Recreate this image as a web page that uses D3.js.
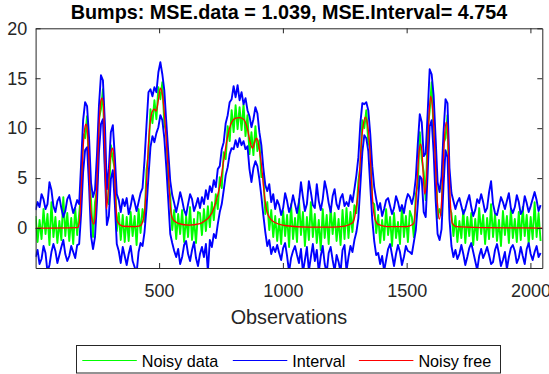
<!DOCTYPE html>
<html>
<head>
<meta charset="utf-8">
<script src="https://cdn.jsdelivr.net/npm/d3@7"></script>
<style>
  html, body { margin: 0; padding: 0; background: #fff; }
  svg { display: block; font-family: "Liberation Sans", Arial, Helvetica, sans-serif; }
</style>
</head>
<body>
<svg id="chart" width="549" height="374"></svg>
<script>
// Bumps test signal: noisy observations, interval bounds and the noise-free curve.
const title = "Bumps: MSE.data = 1.039, MSE.Interval= 4.754";
const xLabel = "Observations";
const xTicks = [500, 1000, 1500, 2000];
const yTicks = [0, 5, 10, 15, 20];
const seriesNames = ["Noisy data", "Interval", "Noisy free"];

// samples are taken every 8th observation, starting at observation 1
const sampleStep = 8;

// noisy data (green)
const noisyData = [
  1.2, -1.4, 0.8, -1.1, 1.9, -0.6, 1.4, -1.7, 2.6, -0.9, 1.1, -1.5, 0.7, -1.2, 3.1, -0.8, 1.5, -1.3, 1.0, -1.6, 2.0, -0.7,
  1.4, 3.6, 9.4, 9.0, 11.2, 5.4, 2.8, -0.9, 2.6, 3.9, 11.0, 11.9, 13.9, 6.4, 2.9, 2.4, 8.3, 6.9, 5.9, -0.3, 1.5, -1.2, 1.3, -1.4, 1.1,
  -1.3, 1.6, -0.8, 1.2, -1.7, 1.9, -0.5,
  1.9, 0.6, 5.8, 7.4, 11.9, 10.5, 12.8, 10.9, 14.1, 12.9, 14.6, 10.4, 9.6, 4.6, 3.2, -0.2, 1.8,
  -1.1, 1.4, -0.6, 1.8, -1.4, 1.2, -0.9, 2.1, -1.2, 0.9, -1.5, 1.6,
  1.5, -0.7, 1.9, -0.3, 2.2, 0.1, 2.6, 0.8, 3.4, 1.9, 5.1, 4.0, 7.6, 6.9, 10.2, 8.7, 11.8, 9.6, 12.3, 9.9,
  12.1, 9.8, 12.4, 9.2, 11.3, 7.4, 9.6, 7.3, 10.2, 7.7, 8.8, 5.1, 5.4, 1.4, 2.6, -0.2, 1.8, -0.9,
  1.2, -1.3, 0.9, -1.6, 1.7, -0.8, 1.3, -1.9, 2.4, -1.1, 1.0, -1.4, 2.9, -0.7, 1.6, -1.8, 1.1, -1.2, 2.6, -0.9,
  1.4, -1.5, 0.8, -2.2, 1.9, -1.0, 1.3, -1.6, 2.1, -0.6, 1.5, -1.3, 0.9, -1.7, 1.8, -1.1, 2.0,
  -1.0, 1.6, -0.4, 2.3, 1.5, 4.7, 6.2, 10.8, 10.0, 11.8, 8.6, 7.9, 2.6, 2.4, -0.5,
  1.3, -1.5, 0.8, -1.2, 1.9, -0.7, 1.1, -1.8, 1.5, -1.0, 0.6, -1.6, 2.2, -0.9, 1.2, -1.4, 1.7,
  1.1, -0.9, 3.4, 4.3, 9.6, 6.9, 5.6, 2.8, 9.9, 11.7, 14.6, 9.5, 7.4, 1.0, 1.9, 1.3, 8.5, 9.0, 11.3, 2.1, 1.5, -0.8,
  1.2, -1.4, 0.7, -1.0, 1.8, -1.5, 1.1, -0.8, 1.5, -1.7, 0.9, -1.2, 2.0, -0.6, 1.3, -1.6, 1.0, -1.1, 2.4, -0.9,
  1.4, -1.3, 0.8, -1.8, 1.7, -0.7, 1.2, -1.5, 1.9, -1.0, 0.9, -1.4, 1.6, -1.2, 2.1, -0.8, 1.3, -1.6, 1.1, -1.1,
  2.6, -0.9, 1.5, -1.3
];

// interval, upper bound (blue)
const intervalUpper = [
  1.8, 2.6, 2.1, 3.4, 2.9, 1.9, 2.4, 4.6, 3.8, 2.2, 1.6, 2.7, 3.1, 2.0, 1.1, 1.7, 2.9, 3.3, 2.4, 1.5, 2.1, 2.8,
  2.4, 6.5, 10.8, 12.6, 12.2, 9.0, 4.5, 3.1, 3.8, 7.4, 12.3, 15.3, 14.8, 10.5, 3.9, 6.0, 9.6, 10.3, 7.2, 3.4, 2.8, 1.6, 2.9, 2.2, 3.0,
  1.4, 2.2, 3.3, 2.6, 1.7, 2.6, 3.5,
  4.0, 6.8, 10.3, 13.6, 13.9, 13.2, 14.1, 13.6, 15.6, 16.6, 15.4, 13.8, 10.6, 7.6, 4.7, 3.3, 2.5,
  1.6, 2.5, 3.6, 2.8, 1.8, 1.3, 2.4, 3.4, 2.9, 1.7, 2.3, 3.0,
  2.0, 3.1, 2.4, 3.8, 2.9, 4.2, 3.6, 4.8, 4.1, 5.9, 6.2, 7.9, 8.6, 10.5, 11.3, 12.6, 12.9, 14.2, 13.1, 14.3,
  12.8, 13.6, 12.4, 13.0, 11.8, 11.2, 10.1, 10.9, 12.1, 11.5, 9.6, 8.3, 6.0, 4.3, 3.7, 4.4, 2.6, 3.4,
  1.9, 2.8, 2.3, 1.3, 2.0, 3.5, 2.7, 1.6, 2.2, 3.3, 2.4, 1.5, 2.6, 4.6, 3.1, 1.7, 2.4, 4.7, 3.6, 2.3,
  2.0, 4.4, 2.7, 1.8, 2.9, 4.7, 3.8, 2.5, 1.6, 3.2, 3.9, 2.4, 1.9, 3.0, 3.4, 2.2, 2.6,
  2.2, 3.3, 2.6, 3.9, 5.3, 7.1, 10.5, 12.5, 12.4, 12.6, 11.8, 9.4, 6.2, 4.1, 2.9,
  1.8, 2.5, 1.2, 1.9, 2.8, 3.0, 2.2, 1.4, 2.0, 3.2, 2.6, 1.7, 2.3, 1.5, 2.7, 3.4, 3.1,
  2.4, 3.3, 5.0, 8.4, 11.4, 10.6, 7.2, 7.5, 11.6, 15.9, 15.4, 13.3, 9.0, 4.6, 3.6, 5.2, 9.6, 12.9, 12.5, 6.0, 3.5, 2.7,
  1.9, 2.6, 3.0, 2.2, 1.4, 1.9, 2.7, 3.3, 2.1, 1.2, 1.8, 2.9, 2.5, 3.4, 2.6, 1.6, 2.0, 3.6, 4.7, 2.4,
  1.5, 1.3, 2.2, 3.1, 2.6, 1.9, 2.7, 3.5, 2.0, 1.5, 2.1, 3.3, 2.6, 1.4, 1.8, 3.2, 2.5, 1.6, 2.2, 2.9,
  3.6, 2.8, 1.7, 2.3
];

// interval, lower bound (blue)
const intervalLower = [
  -2.9, -2.2, -3.6, -3.1, -1.8, -2.5, -4.4, -3.7, -2.4, -1.6, -2.3, -3.5, -2.7, -1.9, -1.2, -2.6, -3.3, -2.8, -1.8, -2.4, -3.0, -1.7,
  -1.6, 1.5, 5.6, 7.8, 8.1, 4.2, -0.8, -2.1, -0.9, 2.6, 7.6, 10.4, 10.9, 5.6, 0.3, 1.2, 4.9, 5.8, 2.5, -1.6, -2.3, -3.5, -1.9, -2.8, -3.7,
  -2.6, -1.8, -3.3, -3.9, -4.5, -2.4, -1.5,
  -1.8, -0.4, 2.0, 5.2, 8.1, 9.2, 8.6, 9.5, 10.1, 11.3, 10.8, 9.0, 6.1, 2.8, -0.6, -1.5, -2.3,
  -2.9, -2.1, -3.6, -2.9, -1.7, -1.3, -2.6, -3.3, -2.2, -1.4, -3.0, -3.8,
  -2.6, -1.9, -2.9, -1.6, -4.3, -1.2, -1.9, -0.6, -1.0, 0.4, 1.6, 2.4, 3.8, 5.3, 6.1, 7.4, 8.0, 7.9, 8.8, 8.1,
  9.0, 8.3, 8.7, 7.9, 8.2, 5.9, 4.6, 6.0, 6.7, 6.2, 4.9, 3.2, 1.3, -0.4, -1.8, -1.2, -2.6, -1.9,
  -2.4, -1.7, -2.5, -3.2, -2.0, -1.5, -2.8, -4.4, -3.0, -2.3, -1.8, -2.7, -3.5, -2.1, -4.4, -3.2, -1.9, -4.3, -2.9, -1.6,
  -3.3, -2.2, -4.4, -2.8, -1.8, -3.6, -4.5, -2.5, -1.9, -3.2, -4.3, -2.7, -3.4, -4.4, -2.2, -1.7, -4.3,
  -2.9, -1.8, -2.4, -1.2, -0.4, 1.0, 4.3, 7.6, 9.3, 9.0, 7.7, 4.2, 0.9, -1.3, -2.7,
  -2.5, -3.6, -2.8, -4.3, -3.2, -2.1, -1.6, -2.7, -3.8, -2.6, -1.7, -2.4, -3.7, -2.9, -1.8, -2.3, -2.4,
  -2.6, -1.4, -0.2, 2.4, 5.2, 4.9, 1.6, 1.1, 5.6, 10.2, 10.8, 7.6, 2.9, -0.6, -1.2, -0.1, 4.3, 7.8, 7.1, 0.9, -1.8, -2.9,
  -2.2, -3.1, -2.6, -1.7, -2.6, -3.7, -2.9, -2.0, -1.5, -2.4, -3.3, -4.2, -2.8, -2.1, -3.0, -2.5, -1.9, -2.7, -3.6, -3.4,
  -2.2, -1.6, -2.6, -3.8, -3.2, -2.4, -4.1, -2.9, -2.0, -1.7, -2.3, -3.5, -3.0, -1.9, -2.8, -3.6, -2.1, -1.5, -2.6, -3.2,
  -2.4, -1.8, -2.9, -2.5
];

// noise-free signal (red): observation positions and values along the curve
const freeObs = [1, 170, 178, 185, 193, 201, 205, 209, 216, 223, 230, 236, 242, 249, 257, 265, 270, 275, 280, 287,
  294, 301, 308, 312, 316, 321, 326, 330, 340, 355, 400, 425, 433, 441, 449, 457, 465, 473, 481, 488,
  497, 505, 513, 521, 529, 537, 546, 553, 562, 580, 620, 665, 689, 713, 729, 745, 761, 777, 793, 809,
  825, 841, 857, 867, 877, 886, 893, 900, 907, 914, 923, 937, 961, 1015, 1100, 1200, 1250, 1273, 1284, 1295,
  1305, 1318, 1326, 1333, 1341, 1349, 1358, 1365, 1375, 1385, 1420, 1500, 1520, 1529, 1537, 1543, 1550, 1556, 1562, 1568,
  1573, 1579, 1585, 1591, 1597, 1603, 1610, 1617, 1624, 1632, 1640, 1647, 1654, 1660, 1666, 1671, 1677, 1684, 1700, 1800, 2048];
const freeVal = [0.0, 0.05, 0.6, 3.8, 8.0, 10.2, 10.4, 10.0, 7.0, 2.2, 0.7, 0.4, 1.2, 4.8, 10.0, 12.8, 13.0, 12.3, 8.5, 1.9,
  3.5, 6.5, 7.8, 8.0, 7.6, 4.8, 2.0, 0.8, 0.35, 0.18, 0.15, 0.25, 0.6, 1.6, 4.5, 8.5, 10.8, 11.7, 11.9, 11.7,
  12.8, 14.0, 13.4, 11.5, 8.8, 5.8, 2.0, 1.0, 0.7, 0.45, 0.3, 0.45, 0.8, 1.5, 2.6, 4.2, 6.8, 9.2, 10.6, 11.0,
  11.05, 10.9, 9.9, 8.7, 8.0, 8.6, 9.0, 8.6, 7.5, 6.2, 3.8, 1.5, 0.66, 0.23, 0.1, 0.1, 0.2, 0.4, 0.6, 1.8,
  3.8, 8.8, 10.5, 11.1, 10.5, 8.8, 4.8, 2.0, 0.7, 0.36, 0.15, 0.15, 0.3, 0.5, 2.5, 5.0, 7.6, 8.4, 7.6, 4.8,
  3.4, 4.5, 8.0, 11.5, 13.2, 12.4, 10.0, 6.0, 2.6, 0.9, 2.2, 6.0, 9.5, 10.6, 9.6, 6.0, 2.4, 0.5, 0.15, 0.05, 0.0];

const svg = d3.select("#chart");
const plot = { left: 35.6, right: 542.3, top: 28.3, bottom: 268 };
const axisColor = "#262626";

const x = d3.scaleLinear().domain([1, 2048]).range([plot.left, plot.right]);
const y = d3.scaleLinear().domain([-4, 20]).range([plot.bottom, plot.top]);

const obsAt = i => 1 + i * sampleStep;

svg.append("defs").append("clipPath").attr("id", "plot-clip")
  .append("rect")
  .attr("x", plot.left).attr("y", plot.top)
  .attr("width", plot.right - plot.left).attr("height", plot.bottom - plot.top);

const marks = svg.append("g").attr("clip-path", "url(#plot-clip)");

const sampledLine = d3.line().x((d, i) => x(obsAt(i))).y(d => y(d));

marks.append("path").datum(noisyData)
  .attr("d", sampledLine)
  .attr("fill", "none").attr("stroke", "#00ff00").attr("stroke-width", 1.9)
  .attr("stroke-linejoin", "round");

[intervalUpper, intervalLower].forEach(arr => {
  marks.append("path").datum(arr)
    .attr("d", sampledLine)
    .attr("fill", "none").attr("stroke", "#0000ff").attr("stroke-width", 1.9)
    .attr("stroke-linejoin", "round");
});

const freeLine = d3.line()
  .x(d => x(d[0])).y(d => y(d[1]))
  .curve(d3.curveMonotoneX);
marks.append("path").datum(freeObs.map((t, i) => [t, freeVal[i]]))
  .attr("d", freeLine)
  .attr("fill", "none").attr("stroke", "#ff0000").attr("stroke-width", 1.3);

// axes: inward ticks on all four sides (boxed axes)
function styleAxis(g) {
  g.selectAll("path, line").attr("stroke", axisColor);
  g.selectAll("text").attr("fill", axisColor).attr("font-size", 18)
    .attr("font-family", "'Liberation Sans', Arial, Helvetica, sans-serif");
}

svg.append("g").attr("transform", `translate(0,${plot.bottom})`)
  .call(d3.axisBottom(x).tickValues(xTicks).tickFormat(d3.format("d"))
    .tickSizeInner(-5).tickSizeOuter(0).tickPadding(16.7))
  .call(styleAxis);
svg.append("g").attr("transform", `translate(0,${plot.top})`)
  .call(d3.axisTop(x).tickValues(xTicks).tickSizeInner(-5).tickSizeOuter(0).tickFormat(""))
  .call(styleAxis);
svg.append("g").attr("transform", `translate(${plot.left},0)`)
  .call(d3.axisLeft(y).tickValues(yTicks).tickFormat(d3.format("d"))
    .tickSizeInner(-5).tickSizeOuter(0).tickPadding(8.3))
  .call(styleAxis);
svg.append("g").attr("transform", `translate(${plot.right},0)`)
  .call(d3.axisRight(y).tickValues(yTicks).tickSizeInner(-5).tickSizeOuter(0).tickFormat(""))
  .call(styleAxis);

// title and axis label
svg.append("text")
  .attr("x", (plot.left + plot.right) / 2).attr("y", 19.3)
  .attr("text-anchor", "middle").attr("font-size", 19.8).attr("font-weight", "bold")
  .attr("fill", "#000").text(title);

svg.append("text")
  .attr("x", (plot.left + plot.right) / 2).attr("y", 324)
  .attr("text-anchor", "middle").attr("font-size", 19.8)
  .attr("fill", axisColor).text(xLabel);

// legend
const legend = svg.append("g");
legend.append("rect")
  .attr("x", 76.5).attr("y", 345.5).attr("width", 424).attr("height", 27.5)
  .attr("fill", "#fff").attr("stroke", axisColor).attr("stroke-width", 1);

const legendColors = ["#00ff00", "#0000ff", "#ff0000"];
const legendLineX = [82.3, 232.8, 358.9];
legendColors.forEach((c, i) => {
  legend.append("line")
    .attr("x1", legendLineX[i]).attr("x2", legendLineX[i] + 54.5)
    .attr("y1", 360.5).attr("y2", 360.5)
    .attr("stroke", c).attr("stroke-width", 1);
  legend.append("text")
    .attr("x", legendLineX[i] + 59.5).attr("y", 366.8)
    .attr("font-size", 16.2).attr("fill", "#000")
    .text(seriesNames[i]);
});
</script>
</body>
</html>
